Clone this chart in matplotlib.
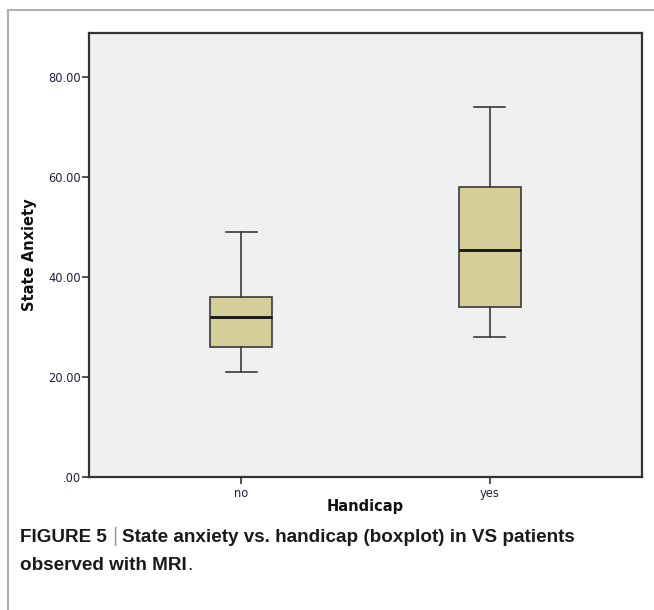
import matplotlib
matplotlib.use("Agg")
import matplotlib.pyplot as plt
from matplotlib.lines import Line2D

categories = ["no", "yes"]
whislo = [21.0, 28.0]
q1 = [26.0, 34.0]
med = [32.0, 45.5]
q3 = [36.0, 58.0]
whishi = [49.0, 74.0]
yticks = [0, 20, 40, 60, 80]
ytick_labels = [".00", "20.00", "40.00", "60.00", "80.00"]

W, H = 654, 610
fig = plt.figure(figsize=(W / 100, H / 100), dpi=100)
fig.patch.set_facecolor("white")

# outer frame lines (top and left)
fig.add_artist(Line2D([8 / W, 1.0], [1 - 10 / H, 1 - 10 / H], color="#b0b0b0", lw=1.5))
fig.add_artist(Line2D([8 / W, 8 / W], [0, 1 - 10 / H], color="#b0b0b0", lw=1.5))

ax = fig.add_axes([89 / W, 1 - 477.3 / H, 552.7 / W, 444.6 / H])
ax.set_facecolor("#f0f0f0")

stats = []
for i, c in enumerate(categories):
    stats.append(dict(label=c, med=med[i], q1=q1[i], q3=q3[i],
                      whislo=whislo[i], whishi=whishi[i], fliers=[]))

ax.bxp(stats, positions=[0, 1], widths=0.25, patch_artist=True, showfliers=False,
       boxprops=dict(facecolor="#d4cf98", edgecolor="#3a3a3a", linewidth=1.2),
       medianprops=dict(color="#111111", linewidth=2.0),
       whiskerprops=dict(color="#3a3a3a", linewidth=1.2),
       capprops=dict(color="#3a3a3a", linewidth=1.2),
       capwidths=0.125)

ax.set_xlim(-0.612, 1.612)
ax.set_ylim(0, 88.9)
ax.set_yticks(yticks)
ax.set_yticklabels(ytick_labels)
ax.set_xticks([0, 1])
ax.set_xticklabels(categories)

for s in ax.spines.values():
    s.set_color("#333333")
    s.set_linewidth(1.6)

ax.tick_params(axis="y", direction="out", length=5, width=1.2, color="#333333",
               labelsize=8.3, labelcolor="#202040", pad=1)
ax.tick_params(axis="x", direction="out", length=5, width=1.2, color="#333333",
               labelsize=8.3, labelcolor="#202040", pad=2)
for t in ax.get_xticklabels() + ax.get_yticklabels():
    t.set_fontfamily("DejaVu Sans")

ax.set_ylabel("State Anxiety", fontsize=10.5, fontweight="bold", color="#111111",
              labelpad=8)
ax.set_xlabel("Handicap", fontsize=10.5, fontweight="bold", color="#111111",
              labelpad=-1)

# caption
renderer = fig.canvas.get_renderer()
cap_font = dict(family="Liberation Sans", fontsize=13.6, fontweight="bold", color="#1a1a1a")
y1 = 1 - 537 / H
x0 = 20 / W
t1 = fig.text(x0, y1, "FIGURE 5", va="center", ha="left", **cap_font)
bb = t1.get_window_extent(renderer)
x1 = (bb.x1 + 5) / W
t2 = fig.text(x1, y1, "|", va="center", ha="left", family="Liberation Sans",
              fontsize=14.5, color="#999999", fontweight="light")
bb2 = t2.get_window_extent(renderer)
x2 = (bb2.x1 + 5) / W
fig.text(x2, y1, "State anxiety vs. handicap (boxplot) in VS patients",
         va="center", ha="left", **cap_font)
y2 = 1 - 566 / H
t4 = fig.text(x0, y2, "observed with MRI", va="center", ha="left", **cap_font)
bb4 = t4.get_window_extent(renderer)
fig.text((bb4.x1 + 0.5) / W, y2, ".", va="center", ha="left", family="Liberation Sans",
         fontsize=13.6, color="#1a1a1a")

fig.savefig("out.png", dpi=100, facecolor="white")
